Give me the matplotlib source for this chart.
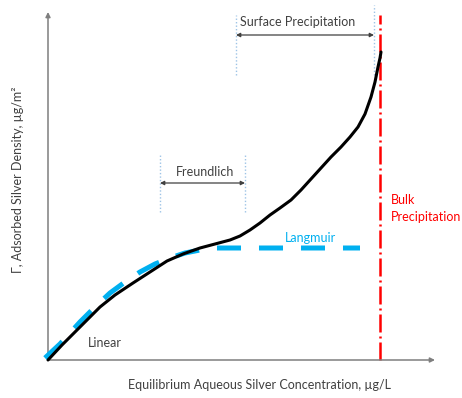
import matplotlib
matplotlib.use("Agg")
import matplotlib.pyplot as plt

plt.rcParams['font.family'] = ['Lato', 'DejaVu Sans']

# schematic isotherm, arbitrary units (x: concentration, y: adsorbed density)
curve_x = [0, 14, 29, 42, 52, 67, 85, 102, 119, 135, 152, 167, 182, 192, 202,
           212, 222, 232, 243, 253, 263, 273, 283, 293, 302, 310, 317, 323,
           327, 330, 332, 333]
curve_y = [0, 15, 30, 43, 53, 65, 77, 88, 99, 106, 112, 116, 120, 124, 130,
           137, 145, 152, 160, 170, 181, 192, 203, 213, 223, 233, 246, 263,
           278, 293, 302, 308]

langmuir_x = [-3, 12, 32, 47, 62, 77, 92, 107, 122, 137, 152, 167, 312]
langmuir_y = [2, 16, 38, 53, 67, 78, 88, 96, 102, 107, 110, 112, 112]

bulk_x = 332
freundlich_range = [112, 197]
surface_range = [188, 326]

XMAX, YMAX = 387, 348
TXT = '#404040'
BLUE = '#00b0f0'
RED = '#ff0000'
DOT = '#9dc3e6'

fig = plt.figure(figsize=(4.62, 3.98), dpi=100)
ax = fig.add_axes([48 / 462, 38 / 398, (435 - 48) / 462, (360 - 12) / 398])
ax.set_xlim(0, XMAX)
ax.set_ylim(0, YMAX)
ax.axis('off')

# axes with arrows
arr = dict(arrowstyle='-|>', color='#7f7f7f', lw=1.1, mutation_scale=7,
           shrinkA=0, shrinkB=0)
ax.annotate('', xy=(XMAX, 0), xytext=(0, 0), arrowprops=arr, annotation_clip=False)
ax.annotate('', xy=(0, YMAX), xytext=(0, 0), arrowprops=arr, annotation_clip=False)

# langmuir
ax.plot(langmuir_x, langmuir_y, color=BLUE, lw=3.6, dashes=(4.8, 3.6),
        solid_capstyle='butt', clip_on=False, zorder=3)
# measured-style curve
ax.plot(curve_x, curve_y, color='black', lw=2.2, clip_on=False, zorder=4,
        solid_joinstyle='round', solid_capstyle='round')
# bulk precipitation line
ax.plot([bulk_x, bulk_x], [0, 345], color=RED, lw=1.8,
        dashes=(7.2, 1.6, 0.8, 1.6), clip_on=False, zorder=2)

# range markers
dotted = dict(color=DOT, lw=1, ls=(0, (1, 1.5)), clip_on=False)
for x in freundlich_range:
    ax.plot([x, x], [148, 207], **dotted)
ax.plot([surface_range[0]] * 2, [285, 345], **dotted)
ax.plot([surface_range[1]] * 2, [285, 355], **dotted)

dbl = dict(arrowstyle='<|-|>', color='#404040', lw=0.9, mutation_scale=6,
           shrinkA=0, shrinkB=0)
ax.annotate('', xy=(freundlich_range[1], 177), xytext=(freundlich_range[0], 177),
            arrowprops=dbl, annotation_clip=False)
ax.annotate('', xy=(surface_range[1], 325), xytext=(surface_range[0], 325),
            arrowprops=dbl, annotation_clip=False)

fs = 9
ax.text(250, 338, 'Surface Precipitation', ha='center', va='center',
        fontsize=fs, color=TXT)
ax.text(157, 188, 'Freundlich', ha='center', va='center', fontsize=fs, color=TXT)
ax.text(262, 122, 'Langmuir', ha='center', va='center', fontsize=fs, color=BLUE)
ax.text(57, 17, 'Linear', ha='center', va='center', fontsize=fs, color=TXT)
ax.text(343, 160, 'Bulk', ha='left', va='center', fontsize=fs, color=RED)
ax.text(343, 143, 'Precipitation', ha='left', va='center', fontsize=fs, color=RED)

ax.text(212, -25, 'Equilibrium Aqueous Silver Concentration, µg/L',
        ha='center', va='center', fontsize=fs, color=TXT)
ax.text(-30, 180, 'Γ, Adsorbed Silver Density, µg/m²', rotation=90,
        ha='center', va='center', fontsize=fs, color=TXT)

fig.savefig('out.png', dpi=100)
